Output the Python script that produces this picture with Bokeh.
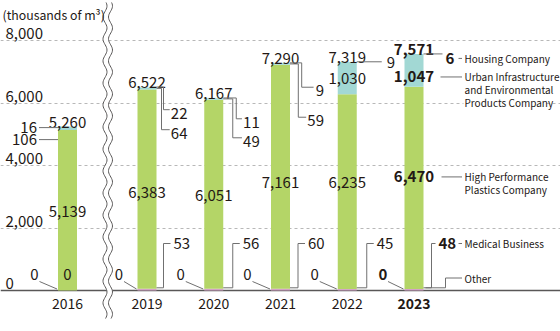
import numpy as np
from bokeh.plotting import figure
from bokeh.models import Range1d, Grid, FixedTicker, Span
from bokeh.core.properties import value
from bokeh.embed import file_html
from bokeh.resources import INLINE

# ---------------- data ----------------
years = ["2016", "2019", "2020", "2021", "2022", "2023"]
other = [0, 0, 0, 0, 0, 0]
medical = [0, 53, 56, 60, 45, 48]
hpp = [5139, 6383, 6051, 7161, 6235, 6470]
urban = [106, 64, 49, 59, 1030, 1047]
housing = [16, 22, 11, 9, 9, 6]
totals = [5260, 6522, 6167, 7290, 7319, 7571]
tick_values = [0, 2000, 4000, 6000, 8000]
tick_labels = ["0", "2,000", "4,000", "6,000", "8,000"]
unit_label = "(thousands of m\u00b3)"
seg_names = ["Other", "Medical Business", "High Performance\nPlastics Company",
             "Urban Infrastructure\nand Environmental\nProducts Company", "Housing Company"]

# ---------------- layout / style ----------------
W, H = 560, 331
BASE_PX = 290          # pixel row of the zero line
PXV = 32.0             # value units per pixel (62.5 px per 2,000)
Y0 = -(H - BASE_PX) * PXV
Y1 = BASE_PX * PXV
def dv(px):
    return px * PXV

TXT = "#231815"
LN = "#707070"
FONT = value("Noto Sans CJK JP")
colors = ["#9e9e9f", "#d4a3c6", "#b4d567", "#a2d8d4", "#c9e6ee"]
NUM = 15      # number font size
LEG = 10      # legend font size

step = 66.75
xs = [67.0] + [146.5 + step * i for i in range(5)]
hw = 9.5
bw = 19

p = figure(width=W, height=H, x_range=Range1d(0, W), y_range=Range1d(Y0, Y1),
           x_axis_type=None, y_axis_type=None, toolbar_location=None,
           output_backend="svg", min_border=0, outline_line_color=None,
           background_fill_color="white", border_fill_color="white")
p.min_border_left = p.min_border_right = p.min_border_top = p.min_border_bottom = 0

grid = Grid(dimension=1, ticker=FixedTicker(ticks=tick_values[1:]),
            grid_line_color="#b8b8b8", grid_line_dash="3 3", grid_line_width=1)
p.add_layout(grid)

base = Span(location=0, dimension="width", line_color="#595757", line_width=1.6)
base.level = "underlay"
p.add_layout(base)

def txt(x, y, s, size=NUM, bold=False, align="center", baseline="middle"):
    p.text(x=[x], y=[y], text=[s], text_font=FONT, text_font_size=f"{size}px",
           text_font_style="bold" if bold else "normal", text_color=TXT,
           text_align=align, text_baseline=baseline)

def path(xl, yl):
    p.line(xl, yl, line_color=LN, line_width=1)

# ---------------- stacked bars ----------------
stack = [other, medical, hpp, urban, housing]
cums = []
b = np.zeros(len(years))
for vals, c in zip(stack, colors):
    t = b + np.array(vals, dtype=float)
    p.vbar(x=xs, bottom=b, top=t, width=bw, fill_color=c, line_color=None)
    cums.append((b.copy(), t.copy()))
    b = t
top = b

# ---------------- axis break ----------------
tp = np.linspace(2, 318, 240)
wave = 2.0 * np.sin(2 * np.pi * tp / 22.0)
yb = (BASE_PX - tp) * PXV
xa = 104.5 + wave
xb = 110.0 + wave
p.patch(np.concatenate([xa, xb[::-1]]), np.concatenate([yb, yb[::-1]]),
        fill_color="white", line_color=None)
p.line(xa, yb, line_color="#595757", line_width=1)
p.line(xb, yb, line_color="#595757", line_width=1)

# ---------------- tick labels & unit ----------------
for v, s in zip(tick_values, tick_labels):
    txt(5, v + dv(7), s, align="left")
txt(2, Y1 - dv(14), unit_label, size=12.3, align="left")

# ---------------- year labels ----------------
for i, yr in enumerate(years):
    txt(xs[i], -dv(12.5), yr, size=14, bold=(i == 5))

# ---------------- totals ----------------
for i in range(len(years)):
    txt(xs[i], top[i] + dv(4), f"{totals[i]:,}", bold=(i == 5),
        baseline="alphabetic")

# ---------------- HPP in-bar labels ----------------
hpp_nudge = [-1, -3, -1, -6, 9, 11]
hb, ht = cums[2]
hpp_y = []
for i in range(len(years)):
    y = (hb[i] + ht[i]) / 2 + dv(hpp_nudge[i])
    hpp_y.append(y)
    txt(xs[i], y, f"{hpp[i]:,}", bold=(i == 5))

# ---------------- "Other" zero labels with diagonal leader ----------------
odx = [-33, -28, -33, -33, -32.5, -31]
for i in range(len(years)):
    cx = xs[i] + odx[i]
    txt(cx, dv(16.5), f"{other[i]:,}", bold=(i == 5))
    path([cx + 5, xs[i] - hw - 1], [dv(9), dv(1.5)])

# ---------------- 2016 specials ----------------
txt(xs[0], dv(16.5), f"{medical[0]:,}")
tr16 = xs[0] - 30.5
y16h = top[0] - dv(1.5)
txt(tr16, y16h, f"{housing[0]:,}", align="right")
path([tr16 + 2, xs[0] - hw], [y16h, y16h])
y16u = top[0] - dv(13.5)
txt(tr16, y16u, f"{urban[0]:,}", align="right")
path([tr16 + 2, xs[0] - hw], [y16u, y16u])

# ---------------- medical brackets (2019-2023) ----------------
mb = [7, 9.5, 8, 10, 8]
mt = [10, 10, 10, 10, 7]
for k, i in enumerate(range(1, 6)):
    br = xs[i] + hw
    vx = br + mb[k]
    ylab = dv(47)
    path([br, vx, vx, vx + mt[k] - 3], [dv(2.7), dv(2.7), ylab, ylab])
    txt(vx + mt[k], ylab, f"{medical[i]:,}", bold=(i == 5), align="left")

# ---------------- housing / urban brackets (2019-2021) ----------------
ov = [7, 13, 11.7]
iv = [5, 9.5, 8.3]
trr = [31, 36.5, 34]
hd = [23, 21, 24.5]
ud = [43, 40, 54.5]
hsb, hst = cums[4]
usb, ust = cums[3]
for k, i in enumerate(range(1, 4)):
    br = xs[i] + hw
    tright = br + trr[k]
    # housing
    sh = f"{housing[i]:,}"
    yh = top[i] - dv(hd[k])
    endh = tright - 7.4 * len(sh) - 3
    ym = (hsb[i] + hst[i]) / 2
    path([br, br + ov[k], br + ov[k], endh], [ym, ym, yh, yh])
    txt(tright, yh - dv(3.5), sh, align="right")
    # urban
    su = f"{urban[i]:,}"
    yu = top[i] - dv(ud[k])
    endu = tright - 7.4 * len(su) - 3
    ym = (usb[i] + ust[i]) / 2
    path([br, br + iv[k], br + iv[k], endu], [ym, ym, yu, yu])
    txt(tright, yu - dv(3.5), su, align="right")

# ---------------- 2022 ----------------
br = xs[4] + hw
path([br, br + 25], [top[4], top[4]])
txt(br + 30, top[4] - dv(1), f"{housing[4]:,}", align="left")
txt(xs[4], (usb[4] + ust[4]) / 2, f"{urban[4]:,}")

# ---------------- 2023 + legend ----------------
i = 5
br = xs[i] + hw
LX = xs[i] + 50.5
def legend(y, s):
    lines = s.split("\n")
    for j, ln in enumerate(lines):
        txt(LX, y - dv(13 * j), ln, size=LEG, align="left")

# housing
path([br, br + 19], [top[i], top[i]])
yh = top[i] - dv(4.5)
txt(br + 22, yh, f"{housing[i]:,}", bold=True, align="left")
path([LX - 6, LX - 2.5], [yh, yh])
legend(yh, seg_names[4])
# urban
yu = (usb[i] + ust[i]) / 2 - dv(6.5)
txt(xs[i], yu, f"{urban[i]:,}", bold=True)
path([br + 17, LX - 2.5], [yu, yu])
# white backing where a gridline crosses the legend text
p.quad(left=[LX - 1], right=[LX + 80], top=[yu - dv(21)], bottom=[yu - dv(31)],
       fill_color="white", line_color=None)
legend(yu, seg_names[3])
# hpp
yp = hpp_y[i]
path([br + 18, LX - 2.5], [yp, yp])
legend(yp, seg_names[2])
# medical
ym = dv(47)
path([LX - 6, LX - 2.5], [ym, ym])
legend(ym, seg_names[1])
# other
yo = dv(12.5)
path([br + 2, br + 22, br + 22, LX - 2.5], [dv(2.7), dv(2.7), yo, yo])
legend(yo, seg_names[0])

open("out.html", "w").write(file_html(p, INLINE))
